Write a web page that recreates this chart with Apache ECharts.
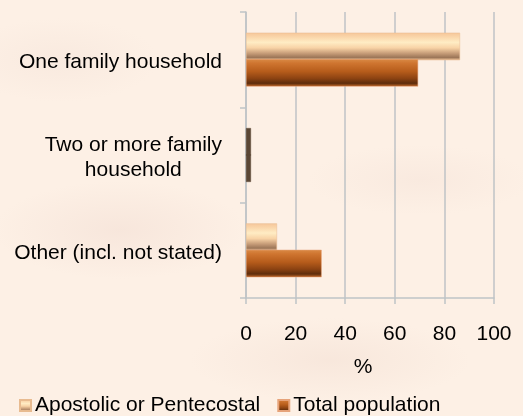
<!DOCTYPE html>
<html>
<head>
<meta charset="utf-8">
<script src="https://cdn.jsdelivr.net/npm/echarts@6/dist/echarts.min.js"></script>
<style>
  html, body { margin: 0; padding: 0; }
  body {
    width: 523px; height: 416px; overflow: hidden;
    background:
      radial-gradient(ellipse 180px 70px at 120px 230px, rgba(240,218,208,0.45), rgba(240,218,208,0) 70%),
      radial-gradient(ellipse 160px 50px at 420px 180px, rgba(242,222,212,0.35), rgba(242,222,212,0) 70%),
      radial-gradient(ellipse 200px 60px at 330px 360px, rgba(240,218,206,0.4), rgba(240,218,206,0) 70%),
      radial-gradient(ellipse 140px 60px at 60px 60px, rgba(242,224,214,0.4), rgba(242,224,214,0) 70%),
      #fdf0e5;
  }
  #chart { width: 523px; height: 416px; }
</style>
</head>
<body>
<div id="chart"></div>
<script>
// Household composition, percent of persons
const categories = ['One family household', 'Two or more family household', 'Other (incl. not stated)'];
const apostolic = [86.3, 2.0, 12.5];
const totalPopulation = [69.4, 2.0, 30.5];
const xTicks = [0, 20, 40, 60, 80, 100];
const seriesNames = ['Apostolic or Pentecostal', 'Total population'];

const font = '"Liberation Sans", Arial, sans-serif';

function bevel(stops) {
  return new echarts.graphic.LinearGradient(0, 0, 0, 1,
    stops.map(function (s) { return { offset: s[0], color: s[1] }; }));
}

const lightFill = bevel([
  [0, '#f6c79a'], [0.12, '#f9d2a6'], [0.35, '#ffecc4'], [0.55, '#f8d3a6'],
  [0.75, '#c69c78'], [0.9, '#9c7658'], [1, '#f0c49a']
]);
const darkFill = bevel([
  [0, '#d98a45'], [0.15, '#cf7530'], [0.45, '#b65c1b'], [0.7, '#8d4312'],
  [0.88, '#5e2d0c'], [1, '#c46a2a']
]);
// very short bars show only their shaded end face
const edgeFill = '#5a4634';

function barData(values) {
  return values.map(function (v) {
    return v < 3 ? { value: v, itemStyle: { color: edgeFill, borderColor: edgeFill } } : v;
  });
}

const chart = echarts.init(document.getElementById('chart'), null, { renderer: 'canvas' });

chart.setOption({
  backgroundColor: 'transparent',
  textStyle: { fontFamily: font },
  animation: false,
  grid: { left: 246, right: 29, top: 12, bottom: 118, containLabel: false },
  legend: {
    left: 14, top: 390,
    itemWidth: 11, itemHeight: 11, itemGap: 17,
    icon: 'rect',
    textStyle: { fontFamily: font, fontSize: 21, color: '#000', padding: [0, 0, 0, -1] },
    data: seriesNames
  },
  xAxis: {
    type: 'value',
    min: 0, max: 100, interval: 20,
    name: '%',
    nameLocation: 'middle',
    nameGap: 59,
    nameTextStyle: { fontFamily: font, fontSize: 21, color: '#000', padding: [0, 14, 0, 0] },
    axisLine: { show: true, lineStyle: { color: '#bfc3c6', width: 1.5 } },
    axisTick: { show: true, length: 6, lineStyle: { color: '#bfc3c6', width: 1.5 } },
    splitLine: { show: true, lineStyle: { color: '#bfc3c6', width: 1.5 } },
    axisLabel: {
      margin: 26, fontFamily: font, fontSize: 21, color: '#000',
      formatter: function (v) { return xTicks.indexOf(v) >= 0 ? String(v) : ''; }
    }
  },
  yAxis: {
    type: 'category',
    inverse: true,
    data: categories,
    axisLine: { show: true, lineStyle: { color: '#bfc3c6', width: 1.5 } },
    axisTick: { show: true, length: 6, lineStyle: { color: '#bfc3c6', width: 1.5 } },
    splitLine: { show: false },
    axisLabel: {
      margin: 24, fontFamily: font, fontSize: 21, color: '#000', lineHeight: 25,
      padding: [6, 0, 0, 0],
      formatter: function (v) {
        if (v === 'Two or more family household') {
          return '{c|Two or more family}\n{c|household}';
        }
        return v;
      },
      rich: { c: { align: 'center', fontFamily: font, fontSize: 21, color: '#000', lineHeight: 25 } }
    }
  },
  series: [
    {
      name: seriesNames[0],
      type: 'bar',
      data: barData(apostolic),
      barWidth: 27.5,
      barGap: '-4%',
      itemStyle: { color: lightFill, borderColor: '#e8bb90', borderWidth: 0.5 }
    },
    {
      name: seriesNames[1],
      type: 'bar',
      data: barData(totalPopulation),
      barWidth: 27.5,
      barGap: '-4%',
      itemStyle: { color: darkFill, borderColor: '#e6a37a', borderWidth: 0.5 }
    }
  ]
});
</script>
</body>
</html>
